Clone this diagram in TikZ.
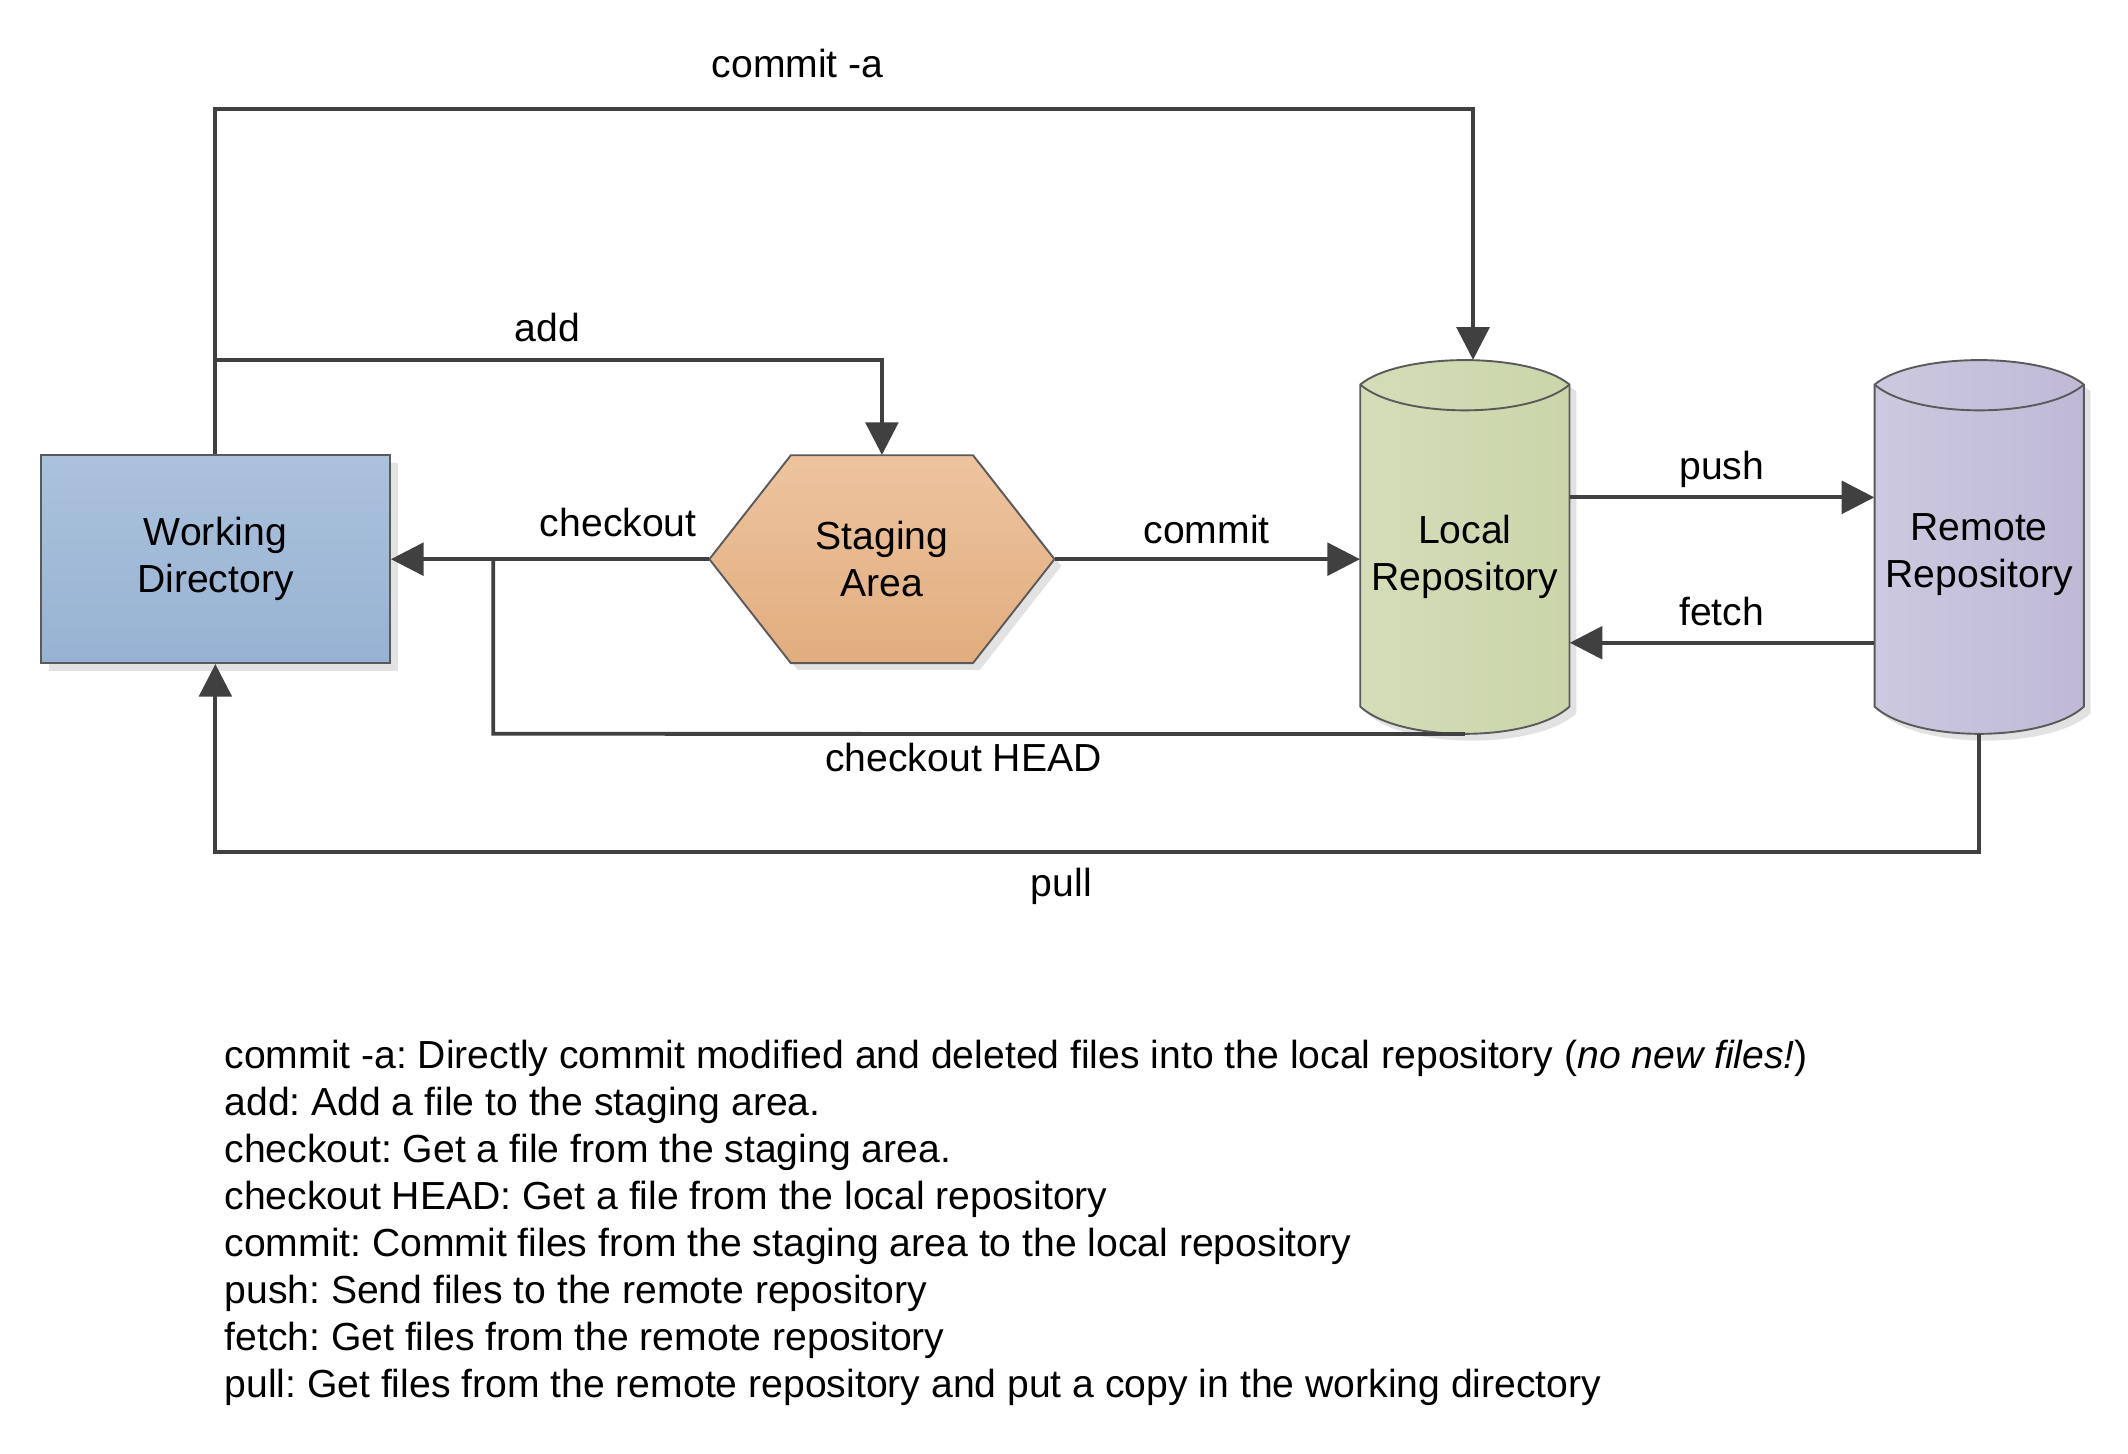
\documentclass[tikz,border=0pt]{standalone}
\usepackage{fontspec}
\setmainfont{Liberation Sans}
\usetikzlibrary{arrows.meta,calc}
\definecolor{conncol}{HTML}{404040}
\definecolor{outlinecol}{HTML}{5A5A5A}
\definecolor{shadowcol}{HTML}{E2E2E2}
\definecolor{wdtop}{HTML}{ABC2DB}
\definecolor{wdbot}{HTML}{97B2D3}
\definecolor{sttop}{HTML}{EDC49F}
\definecolor{stbot}{HTML}{E2AD7E}
\definecolor{lcleft}{HTML}{D4DDB8}
\definecolor{lcright}{HTML}{CBD5A9}
\definecolor{rmleft}{HTML}{CDC9E0}
\definecolor{rmright}{HTML}{BFB9D6}
\newcommand{\cylshape}[3]{%
  \begin{scope}[shift={(#1,0)}]
    \fill[shadowcol,shift={(5,5)}] (-77,283) -- (-77,520) .. controls (-48,546.7) and (48,546.7) .. (77,520) -- (77,283) .. controls (48,259) and (-48,259) .. (-77,283) -- cycle;
    \draw[outline, left color=#2, right color=#3] (-77,283) -- (-77,520) .. controls (-48,546.7) and (48,546.7) .. (77,520) -- (77,283) .. controls (48,259) and (-48,259) .. (-77,283) -- cycle;
    \draw[outline] (-77,283) .. controls (-48,308.3) and (48,308.3) .. (77,283);
  \end{scope}}
\begin{document}
\frenchspacing
\begin{tikzpicture}[x=1pt,y=-1pt,
  font=\fontsize{28.8}{34.6}\selectfont\frenchspacing,
  outline/.style={draw=outlinecol, line width=1.4pt},
  conn/.style={draw=conncol, line width=2.8pt, -{Triangle[length=24pt,width=24pt]}},
  plainline/.style={draw=conncol, line width=2.8pt},
  wdbox/.style={rectangle, outline, top color=wdtop, bottom color=wdbot, minimum width=257pt, minimum height=153pt, align=center, inner sep=0pt},
  hiddenbox/.style={rectangle, draw=none, inner sep=0pt, align=center},
  lbl/.style={anchor=base, inner sep=0pt},
  legend/.style={anchor=base west, inner sep=0pt}]
\useasboundingbox[fill=white] (0,0) rectangle (1566,1070);

% Working directory
\fill[shadowcol] (36,341) rectangle (293,494);
\node[wdbox] (wd) at (158.5,411.5) {Working\\Directory};

% Staging area
\fill[shadowcol, shift={(5,5)}] (522,411.5) -- (582,335) -- (716,335) -- (776,411.5) -- (716,488) -- (582,488) -- cycle;
\draw[outline, top color=sttop, bottom color=stbot] (522,411.5) -- (582,335) -- (716,335) -- (776,411.5) -- (716,488) -- (582,488) -- cycle;
\node[hiddenbox, minimum width=254pt, minimum height=153pt] (stage) at (649,411.5) {Staging\\Area};

% Repositories
\cylshape{1078}{lcleft}{lcright}
\node[hiddenbox, minimum width=154pt, minimum height=275pt] (local) at (1078,402.5) {};
\node[hiddenbox] (localtxt) at (1078,410) {Local\\Repository};

\cylshape{1456.5}{rmleft}{rmright}
\node[hiddenbox, minimum width=154pt, minimum height=275pt] (remote) at (1456.5,402.5) {};
\node[hiddenbox] (remotetxt) at (1456.5,408) {Remote\\Repository};

% Connectors
\coordinate (catop) at (158.5,80);
\coordinate (addj) at (158.5,265);
\coordinate (headj) at (363,411.5);
\coordinate (headc) at (363,540);
\coordinate (pullc) at (1456.5,627);

\draw[conn] (wd.north) -- (catop) -| ($(local.north)+(6,0)$);
\draw[conn] (addj) -| (stage.north);
\draw[conn] (stage.west) -- (wd.east);
\draw[plainline] (local.south) -- (headc) -- (headj);
\draw[conn] (stage.east) -- (stage.east -| local.west);
\draw[conn] (local.east |- 0,366) -- (remote.west |- 0,366);
\draw[conn] (remote.west |- 0,473) -- (local.east |- 0,473);
\draw[conn] (remote.south) -- (pullc) -| (wd.south);

% Labels
\node[lbl] (lca) at (587,57) {commit -a};
\node[lbl] (ladd) at (403,251) {add};
\node[lbl] (lco) at (455,395) {checkout};
\node[lbl] (lcommit) at (888,400) {commit};
\node[lbl] (lpush) at (1267,353) {push};
\node[lbl] (lfetch) at (1267,460) {fetch};
\node[lbl] (lhead) at (709,568) {checkout HEAD};
\node[lbl] (lpull) at (781,660) {pull};

% Legend
\node[legend] (g1) at (165,786) {commit -a: Directly commit modified and deleted files into the local repository (\textit{no new files!})};
\node[legend] (g2) at (165,820.6) {add: Add a file to the staging area.};
\node[legend] (g3) at (165,855.2) {checkout: Get a file from the staging area.};
\node[legend] (g4) at (165,889.8) {checkout HEAD: Get a file from the local repository};
\node[legend] (g5) at (165,924.4) {commit: Commit files from the staging area to the local repository};
\node[legend] (g6) at (165,959) {push: Send files to the remote repository};
\node[legend] (g7) at (165,993.6) {fetch: Get files from the remote repository};
\node[legend] (g8) at (165,1028.2) {pull: Get files from the remote repository and put a copy in the working directory};
\end{tikzpicture}
\end{document}
